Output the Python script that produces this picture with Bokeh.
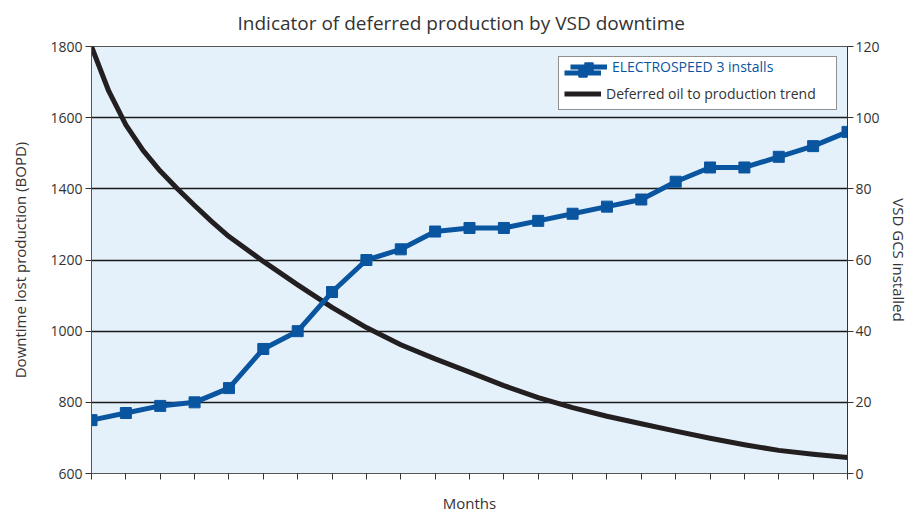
from bokeh.plotting import figure
from bokeh.models import Range1d, LinearAxis, FixedTicker, Legend, LegendItem
from bokeh.embed import file_html
from bokeh.resources import INLINE

# ---- data ----
months = list(range(23))
installs = [15, 17, 19, 20, 24, 35, 40, 51, 60, 63, 68, 69, 69, 71, 73, 75, 77, 82, 86, 86, 89, 92, 96]
trend_months = [0, 0.5, 1, 1.5, 2, 2.5, 3, 3.5, 4, 5, 6, 7, 8, 9, 10, 11, 12, 13, 14, 15, 16, 17,
                18, 19, 20, 21, 22]
deferred = [1800, 1675, 1580, 1508, 1450, 1400, 1353, 1308, 1266, 1196, 1130, 1067, 1010, 962,
            922, 885, 847, 813, 785, 761, 740, 719, 699, 681, 665, 654, 645]
left_ticks = [600, 800, 1000, 1200, 1400, 1600, 1800]
right_ticks = [0, 20, 40, 60, 80, 100, 120]
grid_ticks = [800, 1000, 1200, 1400, 1600]

FONT = "Open Sans"
TXT = "#333333"
BLUE = "#0a55a0"
BLACK = "#231f20"

p = figure(width=915, height=515, output_backend="svg", toolbar_location=None,
           x_range=Range1d(0, 22), y_range=Range1d(600, 1800),
           min_border_left=91, min_border_right=68, min_border_top=46, min_border_bottom=40,
           background_fill_color="#e4f1fa", border_fill_color="white",
           outline_line_color="#555555", outline_line_width=1)
p.extra_y_ranges = {"right": Range1d(0, 120)}

p.title.text = "Indicator of deferred production by VSD downtime"
p.title.align = "left"
p.title.offset = 146
p.title.standoff = 17
p.title.vertical_align = "top"
p.title.text_font = FONT
p.title.text_font_size = "19px"
p.title.text_font_style = "normal"
p.title.text_color = TXT

# grid
p.xgrid.visible = False
p.ygrid.ticker = FixedTicker(ticks=grid_ticks)
p.ygrid.grid_line_color = "#1a1a1a"
p.ygrid.grid_line_width = 1.6

# left axis
ya = p.yaxis[0]
ya.ticker = FixedTicker(ticks=left_ticks)
ya.axis_label = "Downtime lost production (BOPD)"
ya.major_tick_out = 6
ya.major_tick_in = 0
ya.minor_tick_out = 0
ya.minor_tick_in = 0
ya.axis_line_color = "#555555"
ya.major_tick_line_color = "#333333"
ya.major_label_standoff = 3
ya.major_label_text_font = FONT
ya.major_label_text_font_size = "14px"
ya.major_label_text_color = TXT
ya.axis_label_text_font = FONT
ya.axis_label_text_font_size = "15px"
ya.axis_label_text_font_style = "normal"
ya.axis_label_text_color = TXT
ya.axis_label_standoff = 17

# bottom axis
xa = p.xaxis[0]
xa.ticker = FixedTicker(ticks=months)
xa.major_label_overrides = {m: "" for m in months}
xa.major_label_text_font_size = "0px"
xa.major_label_standoff = 0
xa.axis_label = "Months"
xa.major_tick_out = 6
xa.major_tick_in = 0
xa.minor_tick_out = 0
xa.minor_tick_in = 0
xa.axis_line_color = "#555555"
xa.major_tick_line_color = "#333333"
xa.axis_label_text_font = FONT
xa.axis_label_text_font_size = "15px"
xa.axis_label_text_font_style = "normal"
xa.axis_label_text_color = TXT
xa.axis_label_standoff = 13

# right axis
ra = LinearAxis(y_range_name="right", ticker=FixedTicker(ticks=right_ticks),
                axis_label="VSD GCS installed")
ra.major_tick_out = 6
ra.major_tick_in = 0
ra.minor_tick_out = 0
ra.minor_tick_in = 0
ra.axis_line_color = "#333333"
ra.major_tick_line_color = "#333333"
ra.major_label_standoff = 2
ra.major_label_text_font = FONT
ra.major_label_text_font_size = "14px"
ra.major_label_text_color = TXT
ra.axis_label_text_font = FONT
ra.axis_label_text_font_size = "15px"
ra.axis_label_text_font_style = "normal"
ra.axis_label_text_color = TXT
ra.axis_label_standoff = 6
p.add_layout(ra, "right")

# series
black_line = p.line(trend_months, deferred, line_color=BLACK, line_width=5, line_join="round")
blue_line = p.line(months, installs, line_color=BLUE, line_width=5, y_range_name="right")
blue_sq = p.scatter(months, installs, marker="square", size=11, fill_color=BLUE,
                    line_color=BLUE, y_range_name="right")

common = dict(padding=5, spacing=0, label_height=21, glyph_height=21, glyph_width=37,
              label_standoff=5, label_width=225, label_text_font=FONT,
              label_text_font_size="14px", margin=10, location="top_right")

# base legend: box + black entry; overlay legend: blue entry with blue text
leg1 = Legend(items=[LegendItem(label=" ", renderers=[blue_line, blue_sq]),
                     LegendItem(label="Deferred oil to production trend", renderers=[black_line])],
              border_line_color="#222222", border_line_width=1.2,
              background_fill_color="white", background_fill_alpha=1,
              label_text_color=TXT, **common)
leg2 = Legend(items=[LegendItem(label="ELECTROSPEED 3 installs", renderers=[blue_line, blue_sq])],
              border_line_color=None, background_fill_alpha=0,
              label_text_color=BLUE, **common)
p.add_layout(leg1)
p.add_layout(leg2)

open("out.html", "w").write(file_html(p, INLINE))
